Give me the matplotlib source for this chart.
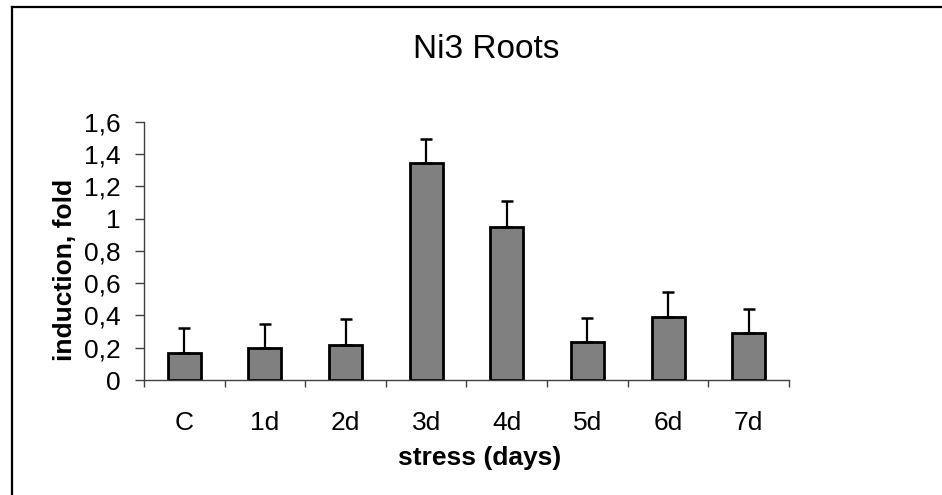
import matplotlib
matplotlib.use("Agg")
import matplotlib.pyplot as plt
from matplotlib.lines import Line2D
import numpy as np

categories = ["C", "1d", "2d", "3d", "4d", "5d", "6d", "7d"]
values = [0.165, 0.196, 0.217, 1.343, 0.950, 0.235, 0.392, 0.291]
errors_up = [0.155, 0.151, 0.161, 0.148, 0.161, 0.151, 0.153, 0.151]
ytick_values = [0, 0.2, 0.4, 0.6, 0.8, 1.0, 1.2, 1.4, 1.6]
ytick_labels = ["0", "0,2", "0,4", "0,6", "0,8", "1", "1,2", "1,4", "1,6"]

plt.rcParams['font.family'] = ['Liberation Sans', 'DejaVu Sans']

W, H = 942, 495
fig = plt.figure(figsize=(W / 100, H / 100), dpi=100)
fig.patch.set_facecolor("white")

ax = fig.add_axes([144 / W, 1 - 380 / H, (789 - 144) / W, (380 - 121.7) / H])

x = np.arange(len(categories))
ax.bar(x, values, width=0.41, color="#808080", edgecolor="black", linewidth=2.0, zorder=2)
ax.errorbar(x, values, yerr=[np.zeros(len(values)), errors_up], fmt="none",
            ecolor="black", elinewidth=1.6, capsize=4, capthick=1.8, zorder=3)

ax.set_xlim(-0.5, len(categories) - 0.5)
ax.set_ylim(0, 1.6)

ax.set_yticks(ytick_values)
ax.set_yticklabels(ytick_labels, fontsize=19)
ax.tick_params(axis="y", direction="out", length=6.5, width=1.0, pad=10, color="#404040")

ax.set_xticks(np.arange(-0.5, len(categories), 1.0))
ax.set_xticklabels([])
ax.set_xticks(x, minor=True)
ax.set_xticklabels(categories, minor=True, fontsize=19)
ax.tick_params(axis="x", which="major", direction="out", length=5, width=1.0, color="#404040")
ax.tick_params(axis="x", which="minor", length=0, pad=22)

for s in ["top", "right"]:
    ax.spines[s].set_visible(False)
for s in ["left", "bottom"]:
    ax.spines[s].set_color("#404040")
    ax.spines[s].set_linewidth(1.0)

fig.text(486 / W, 1 - 58 / H, "Ni3 Roots", fontsize=24, ha="center", va="baseline")
fig.text(480 / W, 1 - 465 / H, "stress (days)", fontsize=19, fontweight="bold",
         ha="center", va="baseline")
fig.text(65 / W, 1 - 270 / H, "induction, fold", fontsize=19, fontweight="bold",
         ha="center", va="center", rotation=90)

# chart frame (top and left edges visible)
fig.add_artist(Line2D([11.5 / W, 11.5 / W], [0, 1 - 7 / H], transform=fig.transFigure,
                      color="black", linewidth=1.6))
fig.add_artist(Line2D([11.5 / W, 1], [1 - 7 / H, 1 - 7 / H], transform=fig.transFigure,
                      color="black", linewidth=1.6))

fig.savefig("out.png", dpi=100, facecolor="white")
